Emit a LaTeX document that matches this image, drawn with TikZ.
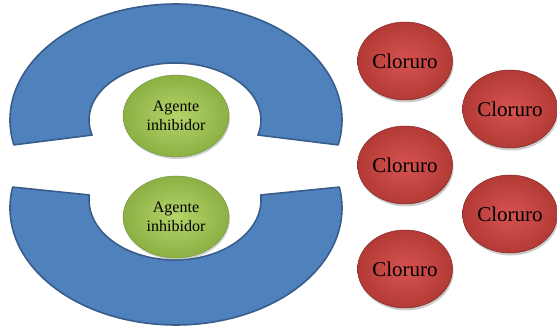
\documentclass[tikz,border=0pt]{standalone}
\usepackage{fontspec}
\setmainfont{Liberation Serif}
\usetikzlibrary{shapes.geometric,shadows}
\definecolor{blueF}{HTML}{4F81BD}
\definecolor{blueD}{HTML}{385D8A}
\definecolor{greenI}{HTML}{B5D46A}
\definecolor{greenO}{HTML}{8CB043}
\definecolor{greenD}{HTML}{71913A}
\definecolor{redI}{HTML}{D65350}
\definecolor{redO}{HTML}{B33A36}
\definecolor{redD}{HTML}{7E2624}
\begin{document}
\begin{tikzpicture}[x=1pt,y=1pt,
  ring/.style={fill=blueF,draw=blueD,line width=1.6pt,line join=round},
  agent/.style={ellipse,minimum width=106pt,minimum height=82pt,inner sep=0pt,
    draw=greenD,line width=0.4pt,inner color=greenI,outer color=greenO,
    drop shadow={shadow xshift=1pt,shadow yshift=-2pt,opacity=0.35},
    align=center,font=\fontsize{16}{19}\selectfont},
  ion/.style={ellipse,minimum width=95pt,minimum height=78pt,inner sep=0pt,
    draw=redD,line width=0.5pt,inner color=redI,outer color=redO,
    drop shadow={shadow xshift=1pt,shadow yshift=-2.5pt,opacity=0.4},
    font=\fontsize{21}{24}\selectfont}]
\useasboundingbox (0,0) rectangle (557,328);
% top blue shape
\draw[ring] ([shift={(192.4:166 and 116)}]176,208) coordinate (t1)
  arc[start angle=192.4,end angle=-12.4,x radius=166,y radius=116]
  -- ([shift={(-15.3:86 and 57)}]175,208) coordinate (t2)
  arc[start angle=-15.3,end angle=195.3,x radius=86,y radius=57] -- cycle;
% bottom blue shape
\draw[ring] ([shift={(169.7:166 and 117)}]176,120) coordinate (b1)
  arc[start angle=169.7,end angle=370.3,x radius=166,y radius=117]
  -- ([shift={(4.8:86 and 60)}]175,128) coordinate (b2)
  arc[start angle=4.8,end angle=-184.8,x radius=86,y radius=60] -- cycle;
% green agents
\node[agent] (a1) at (176,212) {Agente\\inhibidor};
\node[agent] (a2) at (176,111) {Agente\\inhibidor};
% red chloride ions
\node[ion] (c1) at (405,267) {Cloruro};
\node[ion] (c2) at (510,219) {Cloruro};
\node[ion] (c3) at (405,163) {Cloruro};
\node[ion] (c4) at (510,114) {Cloruro};
\node[ion] (c5) at (405,59) {Cloruro};
\end{tikzpicture}
\end{document}
